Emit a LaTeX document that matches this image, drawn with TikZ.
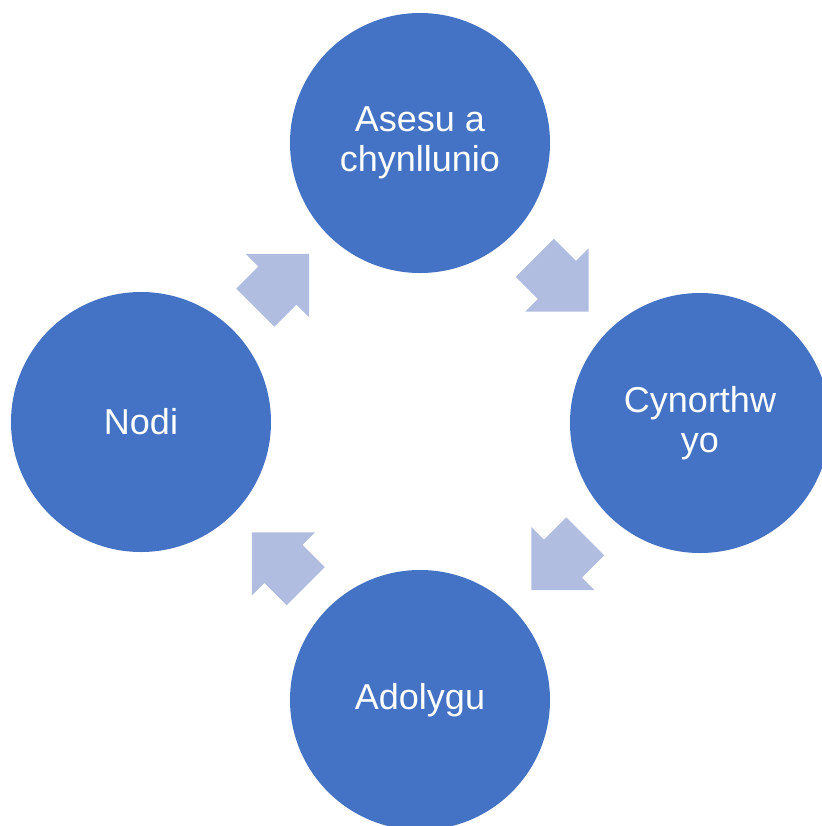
\documentclass[tikz,border=0pt]{standalone}
\usepackage{fontspec}
\setmainfont{Liberation Sans}
\usepackage{tikz}
\usetikzlibrary{positioning,calc,shapes.arrows}
\definecolor{stepblue}{RGB}{68,114,196}
\definecolor{arrowblue}{RGB}{176,189,224}
\tikzset{
    stage/.style={circle, fill=stepblue, text=white, minimum size=195pt, inner sep=0pt, align=center, font=\fontsize{27}{30}\selectfont},
    flow/.style={single arrow, fill=arrowblue, inner xsep=0pt, inner ysep=20pt, minimum height=57pt, single arrow head extend=13.3pt, single arrow tip angle=90, rotate=#1}
}

\begin{document}
\begin{tikzpicture}[x=0.75pt, y=-0.75pt]
    \clip (0,0) rectangle (822,826);
    \node[stage](S1) at (420,143){Asesu a\\chynllunio};
    \node[stage](S2) at (700,423){Cynorthw\\yo};
    \node[stage](S3) at (420,700){Adolygu};
    \node[stage](S4) at (141,422){Nodi};
    \node[flow=-45] (A12) at ($(S1)!0.472!(S2)$){};
    \node[flow=-135](A23) at ($(S2)!0.472!(S3)$){};
    \node[flow=135] (A34) at ($(S3)!0.472!(S4)$){};
    \node[flow=45]  (A41) at ($(S4)!0.472!(S1)$){};
\end{tikzpicture}
\end{document}
